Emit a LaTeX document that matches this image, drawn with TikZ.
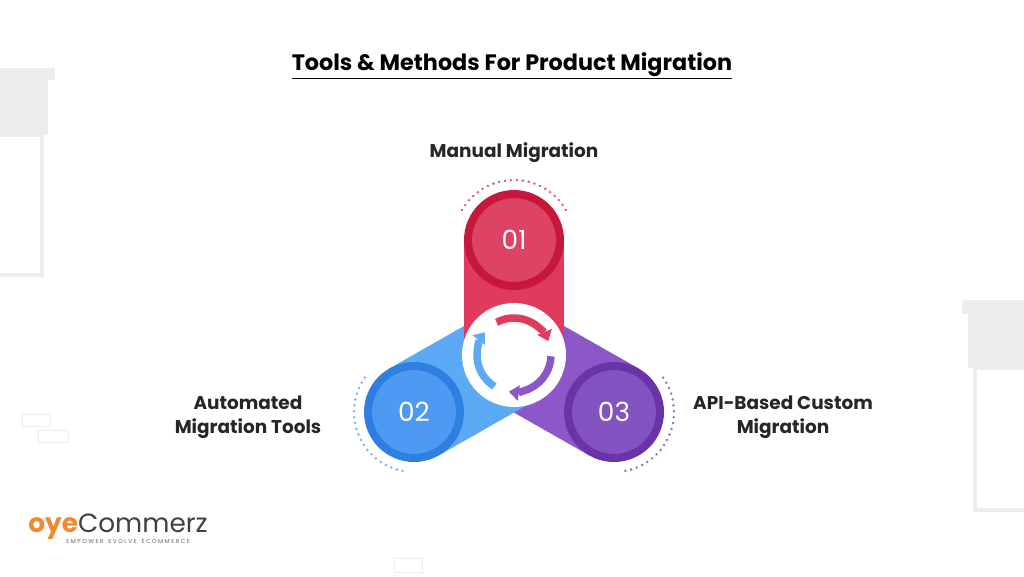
\documentclass[tikz,border=0pt]{standalone}
\usepackage{fontspec}
\setmainfont{Poppins}
\usetikzlibrary{arrows.meta}
\definecolor{redband}{HTML}{E03A5C}
\definecolor{redring}{HTML}{C8173C}
\definecolor{redfill}{HTML}{DC4364}
\definecolor{blueband}{HTML}{5CAAF6}
\definecolor{bluering}{HTML}{2E7FE0}
\definecolor{bluefill}{HTML}{4E9AF2}
\definecolor{purpband}{HTML}{8C58C8}
\definecolor{purpring}{HTML}{6A34A8}
\definecolor{purpfill}{HTML}{8453C2}
\definecolor{oyeorange}{HTML}{F08A2A}
\definecolor{wall}{HTML}{EDEDED}
\tikzset{
  band/.style={line width=2cm},
  ring/.style={draw=#1, line width=0.16cm},
  numtext/.style={text=white, font=\fontsize{15}{18}\selectfont},
  label/.style={font=\fontsize{10.5}{14}\selectfont\bfseries, text=black!85, align=center},
  dots/.style={draw=#1, line width=1.6pt, line cap=round, dash pattern=on 0pt off 3.4pt},
  spin/.style={line width=0.15cm, -{Triangle[length=0.2cm,width=0.3cm]}}
}
\begin{document}
\begin{tikzpicture}[x=0.02cm,y=-0.02cm]
  \useasboundingbox (0,0) rectangle (1024,576);
  %fondo
  \fill[wall] (0,68) rectangle (55,80);
  \fill[wall] (0,80) rectangle (48,135);
  \draw[wall, line width=2pt] (0,135) -- (42,135) -- (42,275) -- (0,275);
  \fill[wall] (962,300) rectangle (1024,314);
  \fill[wall] (968,314) rectangle (1024,368);
  \draw[wall, line width=2pt] (1024,368) -- (975,368) -- (975,510) -- (1024,510);
  \draw[wall] (22,414) rectangle (50,426);
  \draw[wall] (38,430) rectangle (68,442);
  \draw[wall] (394,558) rectangle (422,572);
  %titolo
  \node[font=\fontsize{12.7}{16}\selectfont\bfseries] (title) at (512,66)
    {\underline{Tools \& Methods For Product Migration}};
  %centri
  \coordinate (c) at (514,355);
  \coordinate (p1) at (514,240);
  \coordinate (p2) at (414,412);
  \coordinate (p3) at (614,412);
  %bande
  \draw[band, purpband] (c) -- (p3);
  \draw[band, blueband] (c) -- (p2);
  \draw[band, redband] (c) -- (p1);
  %cerchi
  \node[circle, minimum size=1.84cm, fill=redfill, ring=redring, numtext] (n1) at (p1) {01};
  \node[circle, minimum size=1.84cm, fill=bluefill, ring=bluering, numtext] (n2) at (p2) {02};
  \node[circle, minimum size=1.84cm, fill=purpfill, ring=purpring, numtext] (n3) at (p3) {03};
  %puntini
  \draw[dots=redring!70] (p1) ++(-150:60) arc (-150:-30:60);
  \draw[dots=bluering!60] (p2) ++(-145:60) arc (-145:-260:60);
  \draw[dots=purpring!70] (p3) ++(-35:60) arc (-35:80:60);
  %ciclo centrale
  \fill[white] (c) circle (52);
  \draw[spin, redband] (c) ++(-118:37) arc (-118:-22:37);
  \draw[spin, purpband] (c) ++(2:37) arc (2:98:37);
  \draw[spin, blueband] (c) ++(122:37) arc (122:218:37);
  %etichette
  \node[label] (l1) at (514,153) {Manual Migration};
  \node[label] (l2) at (248,417) {Automated\\Migration Tools};
  \node[label] (l3) at (783,417) {API-Based Custom\\Migration};
  %logo
  \node[anchor=west, inner sep=0, font=\fontsize{15}{16}\selectfont] (logo) at (28,527)
    {\textcolor{oyeorange}{\bfseries oye}\textcolor{black!75}{Commerz}};
  \node[anchor=north west, inner sep=0, font=\fontsize{3.3}{4}\selectfont, text=black!60] (tag) at (66,539)
    {E M P O W E R \ \ E V O L V E \ \ E C O M M E R C E};
\end{tikzpicture}
\end{document}
